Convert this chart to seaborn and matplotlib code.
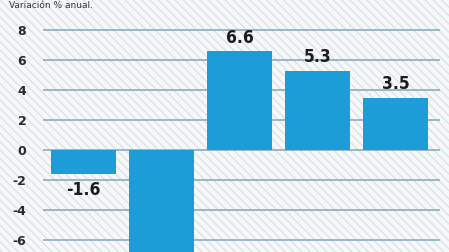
import matplotlib
matplotlib.use("Agg")
import matplotlib.pyplot as plt
from matplotlib.patches import Rectangle
import seaborn as sns
import pandas as pd

# data (second bar runs past the crop)
periods = ["P1", "P2", "P3", "P4", "P5"]
growth = [-1.6, -8.5, 6.6, 5.3, 3.5]
value_labels = ["-1.6", "-8.5", "6.6", "5.3", "3.5"]
yticks = [-6, -4, -2, 0, 2, 4, 6, 8]

BAR_COLOR = "#1d9dd8"
GRID_COLOR = "#8aaebb"

df = pd.DataFrame({"period": periods, "growth": growth})

sns.set_style("white")
fig = plt.figure(figsize=(4.49, 2.52), dpi=100)
fig.patch.set_facecolor("#f6f7f8")

# diagonal stripe background
bg = Rectangle((0, 0), 1, 1, transform=fig.transFigure, facecolor="#f7f8f9",
               edgecolor="#dbe3e8", hatch="\\\\\\\\", linewidth=0, zorder=-10)
fig.patches.append(bg)

ax = fig.add_axes([43 / 449, 0, 397 / 449, 1])
ax.patch.set_alpha(0)

sns.barplot(data=df, x="period", y="growth", color=BAR_COLOR, width=0.83,
            saturation=1, linewidth=0, ax=ax, zorder=3)

ax.set_ylim(-6.8, 10)
ax.set_xlim(-0.52, 4.57)
ax.set_yticks(yticks)
ax.set_yticklabels([str(t) for t in yticks], fontsize=9, fontweight="bold",
                   color="#2a2a2a")
ax.tick_params(axis="y", length=0, pad=12)
ax.set_xticks([])
ax.set_xlabel("")
ax.set_ylabel("")
for t in yticks:
    ax.axhline(t, color=GRID_COLOR, linewidth=1.2, zorder=1)
for s in ax.spines.values():
    s.set_visible(False)

for bar, lab, v in zip(ax.patches, value_labels, growth):
    x = bar.get_x() + bar.get_width() / 2
    off = 3 if v >= 0 else -5
    ax.annotate(lab, (x, v), xytext=(0, off), textcoords="offset points",
                ha="center", va="bottom" if v >= 0 else "top",
                fontsize=12.5, fontweight="bold", fontstretch="condensed",
                color="#1c1c1c", zorder=4)

fig.text(0.02, 0.998, "Variación % anual.", fontsize=6.5, color="#333333",
         ha="left", va="top")

fig.savefig("out.png", dpi=100)
